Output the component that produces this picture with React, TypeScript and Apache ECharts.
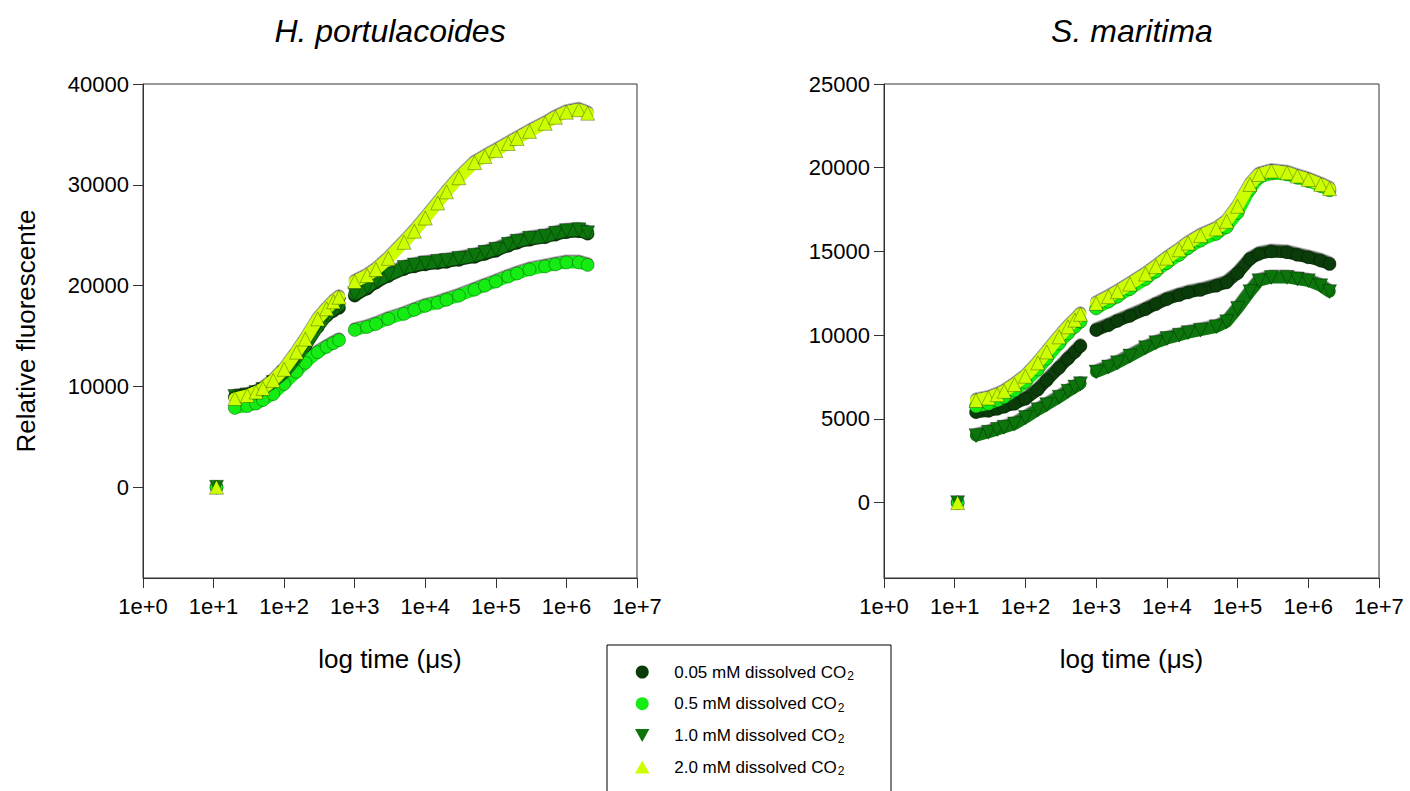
import React, { useEffect, useRef } from 'react';
import * as echarts from 'echarts';

const FONT = '"Liberation Sans", Arial, Helvetica, sans-serif';

// time points (µs)
const T_ZERO = 11;
const T_GAP0 = 15;
const T_SEG1 = [20, 30, 40, 50, 70, 100, 150, 200, 300, 400, 500, 600];
const T_GAP1 = 800;
const T_SEG2 = [1000, 1500, 2000, 3000, 5000, 7000, 10000, 15000, 20000, 30000, 50000, 70000, 100000, 150000, 200000, 300000, 500000, 700000, 1000000, 1500000, 2000000];
const ZERO_VALUE = 0;

const SERIES_NAMES = ['0.05 mM dissolved CO2', '0.5 mM dissolved CO2', '1.0 mM dissolved CO2', '2.0 mM dissolved CO2'];
const SERIES_COLORS = ['#0a3c0a', '#14ec14', '#0b750b', '#ccff00'];
const DOWN_TRI = 'path://M0,0L10,0L5,9Z';
const UP_TRI = 'path://M5,0L10,9L0,9Z';
const SERIES_SYMBOLS = ['circle', 'circle', DOWN_TRI, UP_TRI];

// H. portulacoides
const HP_005_S1 = [8950, 9100, 9300, 9600, 10300, 11200, 12700, 14000, 15900, 17000, 17500, 17800];
const HP_005_S2 = [19000, 19700, 20300, 20950, 21650, 21900, 22100, 22250, 22350, 22550, 22850, 23150, 23450, 23950, 24250, 24550, 24800, 25050, 25300, 25400, 25150];
const HP_05_S1 = [7870, 8050, 8300, 8650, 9250, 10250, 11450, 12350, 13400, 13930, 14300, 14590];
const HP_05_S2 = [15600, 15900, 16200, 16700, 17200, 17600, 18000, 18300, 18600, 19000, 19600, 20000, 20400, 20900, 21200, 21600, 21900, 22100, 22300, 22300, 22050];
const HP_10_S1 = [9000, 9150, 9400, 9700, 10400, 11300, 12800, 14100, 16000, 17100, 17700, 18100];
const HP_10_S2 = [19200, 19900, 20500, 21100, 21800, 22050, 22250, 22400, 22500, 22700, 23000, 23300, 23600, 24100, 24400, 24700, 24900, 25200, 25450, 25550, 25250];
const HP_20_S1 = [8800, 9100, 9450, 9800, 10600, 11700, 13400, 14700, 16700, 17700, 18400, 18850];
const HP_20_S2 = [20400, 21000, 21600, 22700, 24300, 25400, 26700, 28200, 29300, 30700, 32200, 32800, 33400, 34100, 34600, 35300, 36100, 36700, 37200, 37450, 37100];

// S. maritima
const SM_005_S1 = [5400, 5480, 5600, 5720, 5900, 6200, 6750, 7300, 8050, 8600, 9000, 9350];
const SM_005_S2 = [10300, 10600, 10850, 11150, 11550, 11850, 12150, 12400, 12550, 12700, 12950, 13150, 13700, 14550, 14850, 15000, 14950, 14800, 14650, 14450, 14250];
const SM_05_S1 = [5750, 5900, 6100, 6300, 6700, 7200, 7950, 8600, 9500, 10100, 10500, 10800];
const SM_05_S2 = [11600, 12000, 12300, 12750, 13350, 13800, 14300, 14800, 15200, 15650, 16050, 16450, 17300, 18700, 19400, 19650, 19600, 19400, 19200, 18900, 18650];
const SM_10_S1 = [4000, 4200, 4370, 4500, 4700, 5080, 5550, 5850, 6300, 6650, 6900, 7100];
const SM_10_S2 = [7800, 8100, 8350, 8750, 9250, 9550, 9800, 10000, 10150, 10300, 10500, 10800, 11600, 12600, 13250, 13450, 13450, 13350, 13250, 12950, 12600];
const SM_20_S1 = [6100, 6250, 6450, 6650, 7050, 7550, 8350, 9000, 9900, 10500, 10900, 11250];
const SM_20_S2 = [11900, 12300, 12600, 13050, 13650, 14100, 14600, 15100, 15500, 15950, 16350, 16800, 17700, 19000, 19600, 19800, 19700, 19500, 19300, 19000, 18750];

const HP_SEGS = [[HP_005_S1, HP_005_S2], [HP_05_S1, HP_05_S2], [HP_10_S1, HP_10_S2], [HP_20_S1, HP_20_S2]];
const SM_SEGS = [[SM_005_S1, SM_005_S2], [SM_05_S1, SM_05_S2], [SM_10_S1, SM_10_S2], [SM_20_S1, SM_20_S2]];

const X_TICK_LABELS = ['1e+0', '1e+1', '1e+2', '1e+3', '1e+4', '1e+5', '1e+6', '1e+7'];
const HP_Y_TICKS = [0, 10000, 20000, 30000, 40000];
const SM_Y_TICKS = [0, 5000, 10000, 15000, 20000, 25000];

function buildData(s1: number[], s2: number[]) {
  return [
    [T_ZERO, ZERO_VALUE],
    [T_GAP0, '-'],
    ...T_SEG1.map((t, i) => [t, s1[i]]),
    [T_GAP1, '-'],
    ...T_SEG2.map((t, i) => [t, s2[i]]),
  ];
}

function makeSeries(segs: number[][][], gridIdx: number) {
  return segs.map((pair, k) => ({
    name: SERIES_NAMES[k],
    type: 'line',
    xAxisIndex: gridIdx,
    yAxisIndex: gridIdx,
    data: buildData(pair[0], pair[1]),
    connectNulls: false,
    showSymbol: true,
    symbol: SERIES_SYMBOLS[k],
    symbolSize: k >= 2 ? 14 : 13,
    lineStyle: {
      width: 12,
      color: SERIES_COLORS[k],
      cap: 'round',
      join: 'round',
      shadowColor: 'rgba(0,0,0,0.6)',
      shadowBlur: 1,
      shadowOffsetY: -1.5,
    },
    itemStyle: { color: SERIES_COLORS[k], borderColor: 'rgba(0,0,0,0.5)', borderWidth: 0.6 },
    emphasis: { disabled: true },
    silent: true,
    z: 2 + k,
  }));
}

function xAxis(gridIndex: number) {
  return {
    type: 'log',
    logBase: 10,
    gridIndex,
    min: 1,
    max: 1e7,
    interval: 1,
    splitNumber: 7,
    axisLine: { show: true, onZero: false, lineStyle: { color: '#333', width: 1 } },
    axisTick: { show: true, inside: false, length: 10, lineStyle: { color: '#333' } },
    axisLabel: {
      fontSize: 22,
      fontFamily: FONT,
      color: '#000',
      margin: 17,
      formatter: (v: number) => X_TICK_LABELS[Math.round(Math.log10(v))] ?? '',
    },
    splitLine: { show: false },
    minorTick: { show: false },
    name: 'log time (μs)',
    nameLocation: 'middle',
    nameGap: 68,
    nameTextStyle: { fontSize: 26, fontFamily: FONT, color: '#000' },
  };
}

function yAxis(gridIndex: number, min: number, max: number, ticks: number[], name?: string) {
  return {
    type: 'value',
    gridIndex,
    min,
    max,
    axisLine: { show: true, onZero: false, lineStyle: { color: '#333', width: 1 } },
    axisTick: { show: true, inside: false, length: 10, customValues: ticks, lineStyle: { color: '#333' } },
    axisLabel: {
      customValues: ticks,
      fontSize: 22,
      fontFamily: FONT,
      color: '#000',
      margin: 14,
      formatter: (v: number) => String(v),
    },
    splitLine: { show: false },
    name: name ?? '',
    nameLocation: 'middle',
    nameGap: 104,
    nameTextStyle: { fontSize: 26, fontFamily: FONT, color: '#000' },
  };
}

export default function App() {
  const ref = useRef<HTMLDivElement>(null);
  useEffect(() => {
    if (!ref.current) return;
    const chart = echarts.init(ref.current, null, { renderer: 'svg' });
    const option: any = {
      animation: false,
      backgroundColor: '#fff',
      textStyle: { fontFamily: FONT },
      grid: [
        { left: 143, top: 84, width: 494, height: 494, show: true, borderColor: '#333', borderWidth: 1, backgroundColor: 'transparent' },
        { left: 884, top: 84, width: 495, height: 494, show: true, borderColor: '#333', borderWidth: 1, backgroundColor: 'transparent' },
      ],
      xAxis: [xAxis(0), xAxis(1)],
      yAxis: [
        yAxis(0, -9000, 40000, HP_Y_TICKS, 'Relative fluorescente'),
        yAxis(1, -4500, 25000, SM_Y_TICKS),
      ],
      legend: {
        orient: 'vertical',
        left: 630,
        top: 656,
        itemWidth: 54,
        itemHeight: 13,
        itemGap: 10.7,
        selectedMode: false,
        itemStyle: { borderWidth: 0 },
        data: SERIES_NAMES.map((n, i) => ({ name: n, icon: SERIES_SYMBOLS[i] })),
        formatter: (name: string) => `{a|${name.slice(0, -1)}}{s|2}`,
        textStyle: {
          rich: {
            a: { fontSize: 17, fontFamily: FONT, color: '#000', lineHeight: 20 },
            s: { fontSize: 12, fontFamily: FONT, color: '#000', lineHeight: 12, verticalAlign: 'bottom', padding: [9, 0, 0, 1] },
          },
        },
      },
      graphic: [
        { type: 'text', x: 390, y: 31, style: { text: 'H. portulacoides', font: `italic 32px ${FONT}`, fill: '#000', textAlign: 'center', textVerticalAlign: 'middle' } },
        { type: 'text', x: 1132, y: 31, style: { text: 'S. maritima', font: `italic 32px ${FONT}`, fill: '#000', textAlign: 'center', textVerticalAlign: 'middle' } },
        { type: 'rect', shape: { x: 607, y: 645, width: 284, height: 160 }, style: { fill: 'none', stroke: '#000', lineWidth: 1 }, silent: true },
      ],
      series: [...makeSeries(HP_SEGS, 0), ...makeSeries(SM_SEGS, 1)],
    };
    chart.setOption(option);
    return () => chart.dispose();
  }, []);
  return <div ref={ref} style={{ position: 'fixed', left: 0, top: 0, width: 1410, height: 791 }} />;
}
